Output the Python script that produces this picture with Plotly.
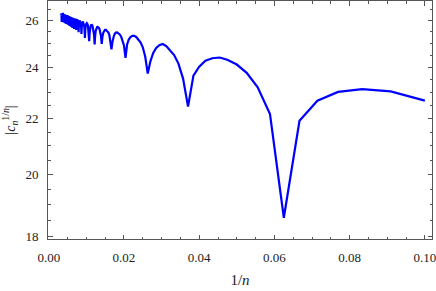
import plotly.graph_objects as go

# n values (x axis shows 1/n)
n_values = list(range(10, 301))

# |c_n^{1/n}|, for n = 10 .. 300
c_values = [
    22.68, 23.04, 23.13, 23.02, 22.68, 21.92, 18.58, 22.17, 23.20, 23.78,   # 10-19
    24.12, 24.31, 24.41, 24.38, 24.28, 24.03, 23.67, 22.45, 23.55, 24.16,   # 20-29
    24.51, 24.72, 24.89, 24.98, 24.93, 24.81, 24.60, 24.25, 23.75, 24.45,   # 30-39
    24.84, 25.05, 25.19, 25.28, 25.33, 25.33, 25.28, 25.17, 24.96, 24.40,   # 40-49
    24.92, 25.17, 25.30, 25.39, 25.45, 25.48, 25.47, 25.41, 25.28, 25.08,   # 50-59
    24.75, 25.14, 25.35, 25.47, 25.53, 25.58, 25.59, 25.58, 25.54, 25.46,   # 60-69
    25.30, 24.98, 25.32, 25.51, 25.61, 25.67, 25.71, 25.72, 25.70, 25.65,   # 70-79
    25.55, 25.35, 24.96, 25.37, 25.58, 25.70, 25.77, 25.80, 25.81, 25.79,   # 80-89
    25.74, 25.64, 25.45, 25.10, 25.46, 25.67, 25.77, 25.83, 25.88, 25.88,   # 90-99
    25.86, 25.82, 25.73, 25.56, 25.24, 25.57, 25.75, 25.85, 25.91, 25.94,   # 100-109
    25.95, 25.93, 25.90, 25.82, 25.67, 25.41, 25.68, 25.84, 25.92, 25.97,   # 110-119
    26.00, 26.00, 25.98, 25.95, 25.88, 25.75, 25.49, 25.76, 25.90, 25.97,   # 120-129
    26.01, 26.04, 26.05, 26.03, 26.00, 25.93, 25.81, 25.58, 25.82, 25.95,   # 130-139
    26.02, 26.06, 26.08, 26.08, 26.07, 26.03, 25.97, 25.86, 25.63, 25.86,   # 140-149
    25.99, 26.05, 26.09, 26.11, 26.12, 26.10, 26.07, 26.01, 25.89, 25.67,   # 150-159
    25.90, 26.02, 26.08, 26.12, 26.14, 26.14, 26.13, 26.10, 26.04, 25.93,   # 160-169
    25.72, 25.94, 26.05, 26.11, 26.14, 26.17, 26.17, 26.15, 26.12, 26.07,   # 170-179
    25.97, 25.76, 25.97, 26.08, 26.14, 26.17, 26.19, 26.19, 26.18, 26.15,   # 180-189
    26.10, 26.00, 25.80, 26.00, 26.11, 26.16, 26.19, 26.21, 26.21, 26.20,   # 190-199
    26.17, 26.12, 26.02, 25.83, 26.02, 26.12, 26.18, 26.21, 26.23, 26.23,   # 200-209
    26.21, 26.19, 26.14, 26.04, 25.85, 26.04, 26.14, 26.19, 26.23, 26.24,   # 210-219
    26.24, 26.23, 26.20, 26.15, 26.05, 25.87, 26.06, 26.16, 26.21, 26.24,   # 220-229
    26.26, 26.26, 26.24, 26.21, 26.17, 26.07, 25.89, 26.08, 26.17, 26.22,   # 230-239
    26.25, 26.27, 26.27, 26.26, 26.23, 26.18, 26.09, 25.91, 26.09, 26.18,   # 240-249
    26.24, 26.26, 26.28, 26.28, 26.26, 26.24, 26.19, 26.10, 25.92, 26.10,   # 250-259
    26.20, 26.25, 26.27, 26.29, 26.29, 26.28, 26.26, 26.21, 26.11, 25.94,   # 260-269
    26.12, 26.21, 26.26, 26.28, 26.30, 26.30, 26.29, 26.26, 26.21, 26.12,   # 270-279
    25.95, 26.13, 26.22, 26.27, 26.29, 26.31, 26.31, 26.29, 26.26, 26.21,   # 280-289
    26.12, 25.93, 26.12, 26.22, 26.27, 26.30, 26.32, 26.32, 26.31, 26.28,   # 290-299
    26.24,                                                                  # 300
]

x_ticks = [0.00, 0.02, 0.04, 0.06, 0.08, 0.10]
x_tick_labels = ["0.00", "0.02", "0.04", "0.06", "0.08", "0.10"]
y_ticks = [18, 20, 22, 24, 26]
y_tick_labels = ["18", "20", "22", "24", "26"]
y_minor = [18.5, 19, 19.5, 20.5, 21, 21.5, 22.5, 23, 23.5, 24.5, 25, 25.5, 26.5]

x_inv = [1.0 / k for k in n_values]

FONT = "Liberation Serif, DejaVu Serif, serif"
FRAME = "#555555"

fig = go.Figure()
fig.add_trace(go.Scatter(
    x=x_inv, y=c_values, mode="lines",
    line=dict(color="#0000ff", width=2.2),
    showlegend=False, hoverinfo="skip",
))

fig.update_layout(
    width=436, height=291,
    margin=dict(l=48, r=4, t=1, b=52),
    paper_bgcolor="white", plot_bgcolor="white",
    font=dict(family=FONT, size=13, color="#222222"),
)
fig.update_xaxes(
    range=[-0.0002, 0.1019],
    tickmode="array", tickvals=x_ticks, ticktext=x_tick_labels,
    ticks="inside", ticklen=4.5, tickwidth=1, tickcolor=FRAME,
    minor=dict(dtick=0.005, tick0=0, ticks="inside", ticklen=2.5, tickcolor=FRAME, showgrid=False),
    showline=True, linecolor=FRAME, linewidth=1, mirror="ticks",
    showgrid=False, zeroline=False,
    ticklabelstandoff=6, ticklabeloverflow="allow",
    title=dict(text="1/<i>n</i>", font=dict(family=FONT, size=15), standoff=10),
)
fig.update_yaxes(
    type="log",
    range=[1.25334, 1.42937],
    tickmode="array", tickvals=y_ticks, ticktext=y_tick_labels,
    ticks="inside", ticklen=4.5, tickwidth=1, tickcolor=FRAME,
    minor=dict(tickmode="array", tickvals=y_minor, ticks="inside", ticklen=2.5, tickcolor=FRAME, showgrid=False),
    showline=True, linecolor=FRAME, linewidth=1, mirror="ticks",
    showgrid=False, zeroline=False,
    ticklabelstandoff=6, ticklabeloverflow="allow",
    title=dict(text="|<i>c</i><sub><i>n</i></sub><sup>1/<i>n</i></sup>|", font=dict(family=FONT, size=14), standoff=6),
)

fig.write_html(
    "out.html",
    config={"displayModeBar": False},
    post_script="document.body.style.margin='0';document.body.style.overflow='hidden';",
)
